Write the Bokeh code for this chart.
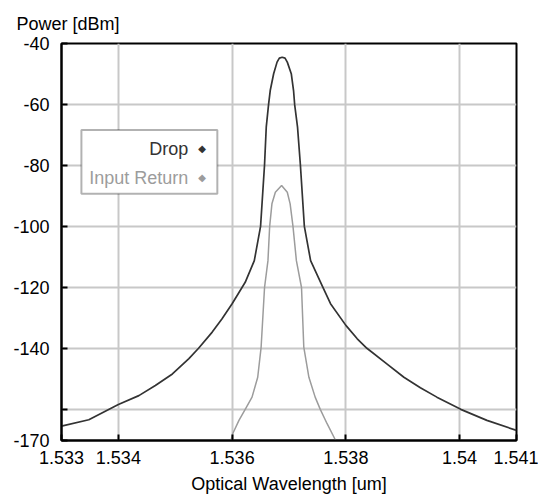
from bokeh.plotting import figure
from bokeh.models import Range1d, FixedTicker, BoxAnnotation, Label
from bokeh.embed import file_html
from bokeh.resources import INLINE

# ---- data ----
drop_wl = [1.5330, 1.53348, 1.5340, 1.53436, 1.53465, 1.53495, 1.53524, 1.53541,
           1.53565, 1.53582, 1.5360, 1.53623, 1.53639, 1.53650, 1.53657, 1.53660,
           1.53664, 1.53667, 1.53673, 1.53679, 1.53683, 1.53688, 1.53693, 1.53697,
           1.53704, 1.53708, 1.53710, 1.53715, 1.53720, 1.53727, 1.53738, 1.53758,
           1.53773, 1.5380, 1.53820, 1.53837, 1.53872, 1.53902, 1.53931, 1.53960,
           1.54002, 1.54048, 1.5410]
drop_db = [-165.3, -163.2, -158.2, -155.3, -152.0, -148.2, -143.2, -139.8,
           -134.5, -130.2, -125.2, -118.2, -111.1, -99.9, -79.7, -67.4,
           -60.1, -55.4, -49.9, -46.1, -44.8, -44.5, -44.8, -46.1,
           -49.9, -55.4, -60.1, -67.4, -79.7, -99.9, -111.1, -119.2,
           -125.2, -132.3, -136.7, -139.8, -144.9, -149.3, -152.7, -155.8,
           -159.8, -163.4, -166.7]

ret_wl = [1.53598, 1.53601, 1.53612, 1.53623, 1.53635, 1.53645, 1.53651, 1.53657,
          1.53663, 1.53666, 1.53670, 1.53676, 1.53687, 1.53697, 1.53702, 1.53707,
          1.53713, 1.53722, 1.53726, 1.53735, 1.53746, 1.53755, 1.53767, 1.53782]
ret_db = [-170.0, -167.8, -163.4, -159.8, -155.8, -149.3, -139.4, -119.9,
          -111.1, -99.9, -92.5, -88.7, -86.5, -88.7, -92.5, -99.9,
          -111.1, -119.9, -139.4, -149.3, -155.8, -159.8, -164.5, -170.0]

x_ticks = [1.533, 1.534, 1.536, 1.538, 1.540, 1.541]
x_labels = ["1.533", "1.534", "1.536", "1.538", "1.54", "1.541"]
x_grid = [1.534, 1.536, 1.538, 1.540]
y_ticks = [-170, -160, -140, -120, -100, -80, -60, -40]
y_labels = ["-170", "", "-140", "-120", "-100", "-80", "-60", "-40"]
y_grid = [-160, -140, -120, -100, -80, -60]
series_names = ["Drop", "Input Return"]
series_colors = ["#333333", "#9c9c9c"]
y_title = "Power [dBm]"
x_title = "Optical Wavelength [um]"

FONT = "Liberation Sans"

p = figure(width=538, height=497,
           x_range=Range1d(1.533, 1.541), y_range=Range1d(-170, -40),
           output_backend="svg", toolbar_location=None,
           min_border_left=61, min_border_right=22,
           min_border_top=43, min_border_bottom=57)

p.background_fill_color = "white"
p.border_fill_color = "white"
p.outline_line_color = "black"
p.outline_line_width = 2

# y-axis title placed at the top-left (as a plot title)
p.title.text = y_title
p.title.align = "left"
p.title.offset = -45
p.title.standoff = 20
p.title.text_font = FONT
p.title.text_font_size = "18px"
p.title.text_font_style = "normal"
p.title.text_color = "black"

# grids
p.xgrid.ticker = FixedTicker(ticks=x_grid)
p.ygrid.ticker = FixedTicker(ticks=y_grid)
for g in (p.xgrid, p.ygrid):
    g.grid_line_color = "#c8c8c8"
    g.grid_line_width = 2

# axes
xa = p.xaxis[0]
ya = p.yaxis[0]
xa.ticker = FixedTicker(ticks=x_ticks)
ya.ticker = FixedTicker(ticks=y_ticks)
xa.major_label_overrides = dict(zip(x_ticks, x_labels))
ya.major_label_overrides = dict(zip(y_ticks, y_labels))
xa.axis_label = x_title
xa.axis_label_text_font = FONT
xa.axis_label_text_font_size = "18px"
xa.axis_label_text_font_style = "normal"
xa.axis_label_text_color = "black"
xa.axis_label_standoff = 7
xa.major_label_standoff = 10
ya.major_label_standoff = 12
for a in (xa, ya):
    a.axis_line_color = "black"
    a.axis_line_width = 2
    a.major_tick_in = 6
    a.major_tick_out = 0
    a.major_tick_line_color = "black"
    a.major_tick_line_width = 2
    a.minor_tick_line_color = None
    a.major_label_text_font = FONT
    a.major_label_text_font_size = "18px"
    a.major_label_text_color = "black"

# curves
p.line(drop_wl, drop_db, line_color=series_colors[0], line_width=1.7)
p.line(ret_wl, ret_db, line_color=series_colors[1], line_width=1.5)

# legend box (drawn manually to mimic label-then-marker layout)
box = BoxAnnotation(left=1.53335, right=1.53574, top=-68.3, bottom=-89.2,
                    fill_color="white", fill_alpha=1.0,
                    line_color="black", line_width=2)
p.add_layout(box)
legend_y = [-74.5, -84.0]
for name, color, yy in zip(series_names, series_colors, legend_y):
    p.add_layout(Label(x=1.53523, y=yy, text=name, text_align="right",
                       text_baseline="middle", text_font=FONT,
                       text_font_size="18px", text_color=color))
    p.add_layout(Label(x=1.53547, y=yy, text="\u25C6", text_align="center",
                       text_baseline="middle", text_font="DejaVu Sans",
                       text_font_size="10px", text_color=color))

open("out.html", "w").write(file_html(p, INLINE))
